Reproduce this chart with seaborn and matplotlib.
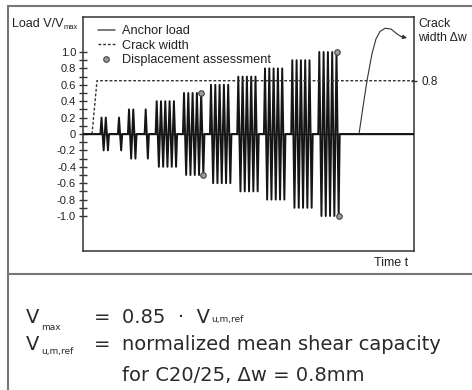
import numpy as np
import pandas as pd
import matplotlib
matplotlib.use("Agg")
import matplotlib.pyplot as plt
import seaborn as sns
from matplotlib.lines import Line2D
from matplotlib.ticker import FixedLocator, FixedFormatter

# ---------------- data (time in arbitrary units) ----------------
group_first_peak = [101.5, 119.0, 129.0, 145.7, 156.7, 184.0, 211.0, 238.3, 265.0, 292.3, 319.3]
group_amplitude = [0.2, 0.2, 0.3, 0.3, 0.4, 0.5, 0.6, 0.7, 0.8, 0.9, 1.0]
group_cycles = [2, 1, 2, 1, 5, 5, 5, 5, 5, 5, 5]
cycle_period = 4.3

crack_t = [92.0, 97.0, 414.0]
crack_v = [0.0, 0.65, 0.65]

assess_t = [200.8, 202.9, 336.6, 338.7]
assess_v = [0.5, -0.5, 1.0, -1.0]

final_t = [359.0, 363.0, 367.0, 372.0, 376.0, 380.0, 385.0, 391.0, 397.0, 401.0]
final_v = [0.0, 0.33, 0.65, 0.98, 1.16, 1.25, 1.29, 1.28, 1.22, 1.19]

ytick_vals = [-1.0, -0.8, -0.6, -0.4, -0.2, 0.0, 0.2, 0.4, 0.6, 0.8, 1.0]
ytick_text = ["-1.0", "-0.8", "-0.6", "-0.4", "-0.2", "0", "0.2", "0.4", "0.6", "0.8", "1.0"]
yminor_vals = [-0.9, -0.7, -0.5, -0.3, -0.1, 0.1, 0.3, 0.5, 0.7, 0.9]
right_tick_val = [0.65]
right_tick_text = ["0.8"]

# build load path vertices from the groups
lt, lv = [83.0], [0.0]
for t0, a, n in zip(group_first_peak, group_amplitude, group_cycles):
    lt.append(t0 - cycle_period / 4); lv.append(0.0)
    for k in range(n):
        lt.append(t0 + k * cycle_period); lv.append(a)
        lt.append(t0 + k * cycle_period + cycle_period / 2); lv.append(-a)
    lt.append(t0 + (n - 1) * cycle_period + 0.75 * cycle_period); lv.append(0.0)
lt.append(414.0); lv.append(0.0)
load_df = pd.DataFrame({"t": lt, "v": lv})

# ---------------- figure ----------------
sns.set_style("white")
plt.rcParams["font.family"] = ["Liberation Sans", "DejaVu Sans"]

W, H = 472, 390
fig = plt.figure(figsize=(W / 100, H / 100), dpi=100)

def fx(px):
    return px / W

def fy(py):
    return 1 - py / H

ax = fig.add_axes([fx(83), fy(251), fx(414) - fx(83), fy(17) - fy(251)])
ax.set_xlim(83, 414)

ax.axhline(0, color="#222222", lw=1.0, zorder=2)
sns.lineplot(data=load_df, x="t", y="v", sort=False, estimator=None,
             color="#151515", lw=1.4, ax=ax, zorder=3)
sns.lineplot(x=crack_t, y=crack_v, sort=False, estimator=None, color="#333333",
             lw=1.0, ax=ax, zorder=4, linestyle=(0, (2.0, 1.4)))
sns.lineplot(x=final_t, y=final_v, sort=False, estimator=None, color="#333333",
             lw=0.8, ax=ax, zorder=4)
ax.annotate("", xy=(407, 1.17), xytext=(final_t[-1], final_v[-1]),
            arrowprops=dict(arrowstyle="-|>", color="#333333", lw=0.8,
                            mutation_scale=6, shrinkA=0, shrinkB=0))
sns.scatterplot(x=assess_t, y=assess_v, color="#9a9a9a", edgecolor="#444444",
                linewidth=0.8, s=16, ax=ax, zorder=5)

for s in ax.spines.values():
    s.set_color("#333333")
    s.set_linewidth(1.1)
    s.set_visible(True)

ax.set_xticks([])
ax.set_xlabel("")
ax.set_ylabel("")
ax.yaxis.set_major_locator(FixedLocator(ytick_vals))
ax.yaxis.set_major_formatter(FixedFormatter(ytick_text))
ax.yaxis.set_minor_locator(FixedLocator(yminor_vals))
ax.tick_params(axis="y", which="both", direction="inout", length=6, width=1.0,
               color="#333333", labelsize=8, labelcolor="#222222", pad=2, left=True)
ax.set_ylim(-1.427, 1.427)

ax2 = ax.twinx()
ax2.set_ylim(-1.427, 1.427)
ax2.yaxis.set_major_locator(FixedLocator(right_tick_val))
ax2.yaxis.set_major_formatter(FixedFormatter(right_tick_text))
ax2.tick_params(axis="y", direction="inout", length=5, width=1.0, color="#333333",
                labelsize=8.5, labelcolor="#222222", pad=3)
ax2.set_xticks([])
for s in ax2.spines.values():
    s.set_visible(False)

handles = [
    Line2D([], [], color="#555555", lw=1.1),
    Line2D([], [], color="#333333", lw=1.0, linestyle=(0, (2.0, 1.4))),
    Line2D([], [], color="#9a9a9a", marker="o", markeredgecolor="#444444",
           markersize=4, lw=0, markeredgewidth=0.8),
]
labels = ["Anchor load", "Crack width", "Displacement assessment"]
leg = ax.legend(handles, labels, loc="upper left", frameon=False, fontsize=9.2,
                handlelength=1.3, handletextpad=0.6, labelspacing=0.2,
                borderaxespad=0.25, bbox_to_anchor=(0.02, 1.0))
for t in leg.get_texts():
    t.set_color("#222222")

renderer = fig.canvas.get_renderer()

def right_of(t, gap=1.0):
    bb = t.get_window_extent(renderer)
    return (bb.x1 + gap) / W

# axis texts
tl = fig.text(fx(12), fy(27), "Load V/V", fontsize=9, color="#222222", va="baseline", ha="left")
fig.text(right_of(tl, 0.5), fy(29), "max", fontsize=5.5, color="#222222", va="baseline", ha="left")
fig.text(fx(418), fy(27), "Crack", fontsize=8.8, color="#222222", va="baseline", ha="left")
fig.text(fx(418), fy(41), "width Δw", fontsize=8.8, color="#222222", va="baseline", ha="left")
fig.text(fx(408), fy(266), "Time t", fontsize=9, color="#222222", va="baseline", ha="right")

# frame lines
fc = "#777777"
fig.add_artist(Line2D([fx(8), 1.0], [fy(5.5), fy(5.5)], color=fc, lw=1.5))
fig.add_artist(Line2D([fx(8), fx(8)], [fy(5.5), 0.0], color=fc, lw=1.5))
fig.add_artist(Line2D([fx(8), 1.0], [fy(274), fy(274)], color=fc, lw=1.5))

# bottom definitions
bf = ["DejaVu Sans"]
tc = "#2a2a2a"
big, small = 14, 6.5
v1 = fig.text(fx(26), fy(323), "V", fontsize=big, family=bf, color=tc, va="baseline")
fig.text(right_of(v1, 1.5), fy(330), "max", fontsize=small, family=bf, color=tc, va="baseline")
fig.text(fx(94), fy(323), "=", fontsize=big, family=bf, color=tc, va="baseline")
t1 = fig.text(fx(122), fy(323), "0.85  ·  V", fontsize=big, family=bf, color=tc, va="baseline")
fig.text(right_of(t1, 1.5), fy(322), "u,m,ref", fontsize=small, family=bf, color=tc, va="baseline")

v2 = fig.text(fx(26), fy(350), "V", fontsize=big, family=bf, color=tc, va="baseline")
fig.text(right_of(v2, 1.5), fy(354), "u,m,ref", fontsize=small, family=bf, color=tc, va="baseline")
fig.text(fx(94), fy(350), "=", fontsize=big, family=bf, color=tc, va="baseline")
fig.text(fx(122), fy(350), "normalized mean shear capacity", fontsize=big, family=bf,
         color=tc, va="baseline")
fig.text(fx(122), fy(381), "for C20/25, Δw = 0.8mm", fontsize=big, family=bf,
         color=tc, va="baseline")

fig.savefig("out.png", dpi=100)
